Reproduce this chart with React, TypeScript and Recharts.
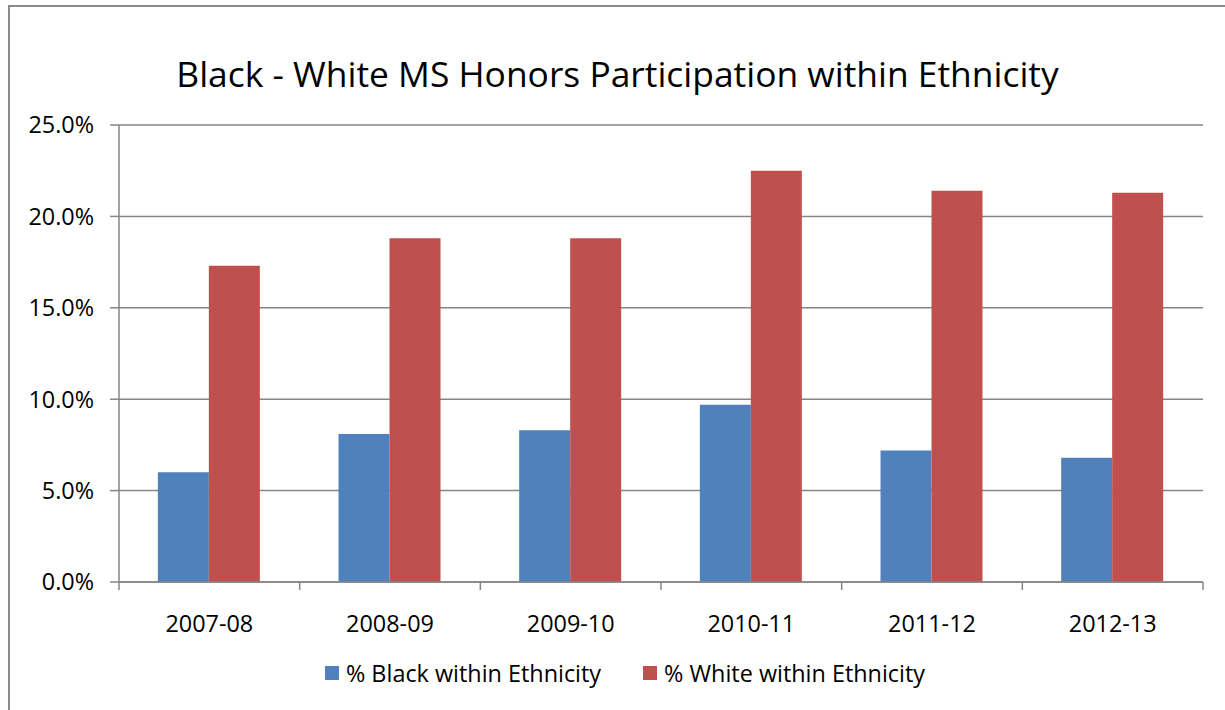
import React from 'react';
import { BarChart, Bar, XAxis, YAxis, CartesianGrid } from 'recharts';

const categories = ['2007-08', '2008-09', '2009-10', '2010-11', '2011-12', '2012-13'];
const blackValues = [6.0, 8.1, 8.3, 9.7, 7.2, 6.8];
const whiteValues = [17.3, 18.8, 18.8, 22.5, 21.4, 21.3];
const yTicks = [0, 5, 10, 15, 20, 25];
const seriesNames = ['% Black within Ethnicity', '% White within Ethnicity'];
const seriesColors = ['#4F81BD', '#C0504D'];
const title = 'Black - White MS Honors Participation within Ethnicity';

const data = categories.map((c, i) => ({ cat: c, black: blackValues[i], white: whiteValues[i] }));

const W = 1225;
const H = 710;
const PLOT_LEFT = 119;
const PLOT_RIGHT = 1203;
const PLOT_TOP = 125;
const PLOT_BOTTOM = 582;
const XAXIS_H = 60;
const STEP = (PLOT_RIGHT - PLOT_LEFT) / categories.length;
const FONT = '"Open Sans", "Noto Sans", sans-serif';
const AXIS_COLOR = '#868686';
const LABEL_SIZE = 23.4;

const XTick = (props: any) => {
  const { x, payload, index } = props;
  const isLast = index === categories.length - 1;
  return (
    <g>
      <line x1={x - STEP / 2} x2={x - STEP / 2} y1={PLOT_BOTTOM} y2={PLOT_BOTTOM + 8} stroke={AXIS_COLOR} strokeWidth={1.5} />
      {isLast && (
        <line x1={x + STEP / 2} x2={x + STEP / 2} y1={PLOT_BOTTOM} y2={PLOT_BOTTOM + 8} stroke={AXIS_COLOR} strokeWidth={1.5} />
      )}
      <text x={x} y={PLOT_BOTTOM + 50} textAnchor="middle" fontFamily={FONT} fontSize={LABEL_SIZE} fill="#000">
        {payload.value}
      </text>
    </g>
  );
};

export default function App() {
  return (
    <div style={{ position: 'absolute', left: 0, top: 0, width: W, height: H, overflow: 'hidden', background: '#fff' }}>
      <div
        style={{
          position: 'absolute',
          left: 8,
          top: 5,
          width: W + 20,
          height: H + 20,
          borderLeft: '2px solid #8a8a8a',
          borderTop: '2px solid #8a8a8a',
        }}
      />
      <div
        style={{
          position: 'absolute',
          left: 0,
          width: W,
          top: 49,
          textAlign: 'center',
          fontFamily: FONT,
          fontSize: 35.4,
          lineHeight: '48px',
          color: '#000',
          paddingLeft: 10,
          boxSizing: 'border-box',
          whiteSpace: 'nowrap',
        }}
      >
        {title}
      </div>
      <div style={{ position: 'absolute', left: 0, top: 0 }}>
        <BarChart
          width={W}
          height={H}
          data={data}
          margin={{ top: PLOT_TOP, right: W - PLOT_RIGHT, bottom: H - PLOT_BOTTOM - XAXIS_H, left: 0 }}
          barCategoryGap="21.5%"
          barGap={0}
        >
          <CartesianGrid vertical={false} stroke={AXIS_COLOR} strokeWidth={1.5} />
          <XAxis
            dataKey="cat"
            height={XAXIS_H}
            tickLine={false}
            axisLine={{ stroke: AXIS_COLOR, strokeWidth: 1.5 }}
            tick={<XTick />}
            interval={0}
          />
          <YAxis
            width={PLOT_LEFT}
            domain={[0, 25]}
            ticks={yTicks}
            tickFormatter={(v: number) => v.toFixed(1) + '%'}
            tickSize={9}
            tickMargin={16}
            tickLine={{ stroke: AXIS_COLOR, strokeWidth: 1.5 }}
            axisLine={{ stroke: AXIS_COLOR, strokeWidth: 1.5 }}
            tick={{ fontFamily: FONT, fontSize: LABEL_SIZE, fill: '#000' }}
            interval={0}
          />
          <Bar dataKey="black" name={seriesNames[0]} fill={seriesColors[0]} isAnimationActive={false} />
          <Bar dataKey="white" name={seriesNames[1]} fill={seriesColors[1]} isAnimationActive={false} />
        </BarChart>
      </div>
      <div
        style={{
          position: 'absolute',
          left: 0,
          width: W,
          top: 657,
          display: 'flex',
          justifyContent: 'center',
          alignItems: 'center',
          fontFamily: FONT,
          fontSize: LABEL_SIZE,
          color: '#000',
          paddingLeft: 25,
          boxSizing: 'border-box',
        }}
      >
        {seriesNames.map((n, i) => (
          <div key={n} style={{ display: 'flex', alignItems: 'center', marginRight: i === 0 ? 42 : 0 }}>
            <span style={{ display: 'inline-block', width: 14, height: 14, background: seriesColors[i], marginRight: 7 }} />
            <span style={{ lineHeight: '32px' }}>{n}</span>
          </div>
        ))}
      </div>
    </div>
  );
}
